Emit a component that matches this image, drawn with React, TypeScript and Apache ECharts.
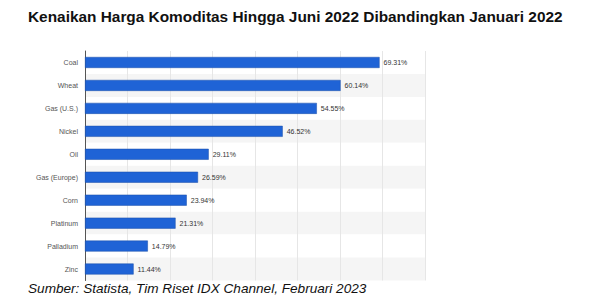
import React, { useEffect, useRef } from "react";
import * as echarts from "echarts";

const categories = ["Coal", "Wheat", "Gas (U.S.)", "Nickel", "Oil", "Gas (Europe)", "Corn", "Platinum", "Palladium", "Zinc"];
const values = [69.31, 60.14, 54.55, 46.52, 29.11, 26.59, 23.94, 21.31, 14.79, 11.44];
const titleText = "Kenaikan Harga Komoditas Hingga Juni 2022 Dibandingkan Januari 2022";
const sourceText = "Sumber: Statista, Tim Riset IDX Channel, Februari 2023";

export default function App() {
  const ref = useRef<HTMLDivElement>(null);
  useEffect(() => {
    const chart = echarts.init(ref.current!, null, { renderer: "svg" });
    chart.setOption({
      animation: false,
      backgroundColor: "#ffffff",
      title: [
        {
          text: titleText,
          left: 23,
          top: 4,
          textStyle: { fontFamily: "Liberation Sans", fontWeight: "bold", fontSize: 15.4, color: "#111111" },
        },
        {
          text: sourceText,
          left: 23,
          top: 276,
          textStyle: { fontFamily: "Liberation Sans", fontStyle: "italic", fontWeight: "normal", fontSize: 13.6, color: "#111111" },
        },
      ],
      grid: { left: 85, right: 175, top: 51, bottom: 27.5, containLabel: false },
      xAxis: {
        type: "value",
        min: 0,
        max: 80,
        interval: 10,
        axisLabel: { show: false },
        axisLine: { show: false },
        axisTick: { show: false },
        splitLine: { show: true, lineStyle: { color: "#e6e6e6", width: 1 } },
      },
      yAxis: {
        type: "category",
        data: categories,
        inverse: true,
        axisLine: { show: true, lineStyle: { color: "#555555", width: 1 } },
        axisTick: { show: false },
        axisLabel: { fontFamily: "Liberation Sans", fontSize: 7, color: "#555555", margin: 7 },
        splitArea: { show: true, areaStyle: { color: ["#ffffff", "#f5f5f5"] } },
      },
      series: [
        {
          type: "bar",
          data: values,
          barWidth: 11,
          itemStyle: { color: "#1f63d6", borderColor: "#1a4fa8", borderWidth: 0.5 },
          label: {
            show: true,
            position: "right",
            distance: 4,
            formatter: (p: any) => p.value.toFixed(2) + "%",
            fontFamily: "Liberation Sans",
            fontSize: 7,
            color: "#333333",
          },
        },
      ],
    });
    return () => chart.dispose();
  }, []);
  return <div ref={ref} style={{ position: "absolute", left: 0, top: 0, width: 600, height: 308 }} />;
}
